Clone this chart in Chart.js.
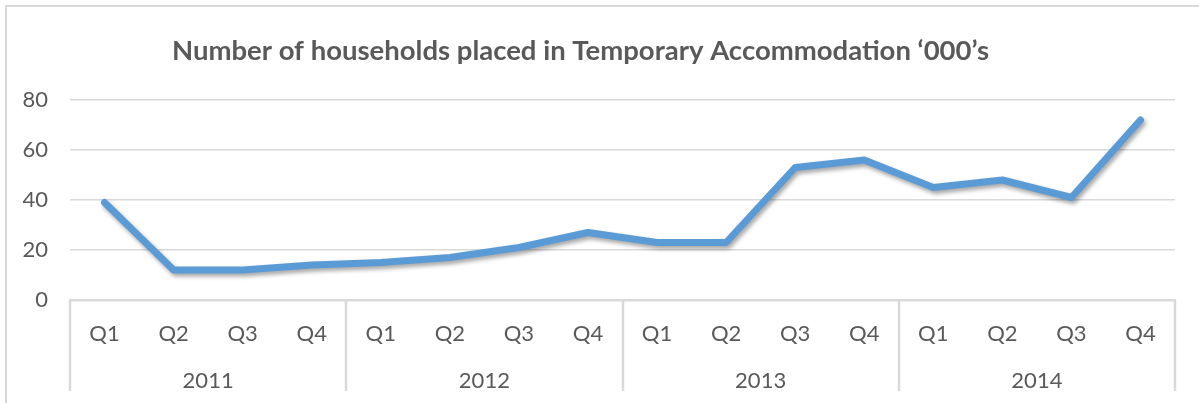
<!DOCTYPE html>
<html>
<head>
<meta charset="utf-8">
<script src="https://cdn.jsdelivr.net/npm/chart.js@4"></script>
<style>
  html, body { margin: 0; padding: 0; background: #ffffff; overflow: hidden; width: 1199px; height: 403px; }
  #frame { position: absolute; left: 5px; top: 5px; width: 1300px; height: 500px; border: 2px solid #d9d9d9; box-sizing: border-box; }
  #c { position: absolute; left: 0; top: 0; }
</style>
</head>
<body>
<div id="frame"></div>
<canvas id="c" width="1199" height="403"></canvas>
<script>
const titleText = "Number of households placed in Temporary Accommodation \u2018000\u2019s";
const quarters = ["Q1","Q2","Q3","Q4","Q1","Q2","Q3","Q4","Q1","Q2","Q3","Q4","Q1","Q2","Q3","Q4"];
const years = ["2011","2012","2013","2014"];
const households = [39, 12, 12, 14, 15, 17, 21, 27, 23, 23, 53, 56, 45, 48, 41, 72];
const yTicks = [0, 20, 40, 60, 80];

const textColor = "#595959";
const gridColor = "#d9d9d9";
const lineColor = "#5b9bd5";

const shadowPlugin = {
  id: "lineShadow",
  beforeDatasetDraw(chart) {
    const ctx = chart.ctx;
    ctx.save();
    ctx.shadowColor = "rgba(0,0,0,0.35)";
    ctx.shadowBlur = 4;
    ctx.shadowOffsetX = 2;
    ctx.shadowOffsetY = 3;
  },
  afterDatasetDraw(chart) {
    chart.ctx.restore();
  }
};

const groupSeparators = {
  id: "groupSeparators",
  afterDraw(chart) {
    const x = chart.scales.x;
    const x2 = chart.scales.x2;
    const ctx = chart.ctx;
    const step = x.getPixelForValue(1) - x.getPixelForValue(0);
    ctx.save();
    ctx.strokeStyle = gridColor;
    ctx.lineWidth = 2.5;
    for (let i = 0; i <= years.length; i++) {
      const px = Math.round(x.getPixelForValue(i * 4) - step / 2);
      ctx.beginPath();
      ctx.moveTo(px, x.top);
      ctx.lineTo(px, x2.bottom - 3);
      ctx.stroke();
    }
    ctx.restore();
  }
};

new Chart(document.getElementById("c"), {
  type: "line",
  data: {
    labels: quarters,
    datasets: [{
      data: households,
      borderColor: lineColor,
      backgroundColor: lineColor,
      borderWidth: 7,
      borderCapStyle: "round",
      borderJoinStyle: "round",
      pointRadius: 0,
      tension: 0,
      fill: false
    }]
  },
  options: {
    responsive: false,
    animation: false,
    events: [],
    layout: { padding: { left: -14, right: 24, top: 0, bottom: 9 } },
    plugins: {
      legend: { display: false },
      tooltip: { enabled: false },
      title: {
        display: true,
        text: titleText,
        color: textColor,
        font: { family: "Lato", size: 27.5, weight: "bold" },
        padding: { top: 35, bottom: 32 }
      }
    },
    scales: {
      x: {
        type: "category",
        offset: true,
        grid: { display: false },
        border: { display: true, color: gridColor, width: 2.5 },
        afterFit(scale) { scale.height = 48; },
        ticks: { color: textColor, font: { family: "Lato", size: 22 }, padding: 13, maxRotation: 0, autoSkip: false }
      },
      x2: {
        type: "category",
        position: "bottom",
        labels: years,
        offset: true,
        grid: { display: false },
        border: { display: false },
        afterFit(scale) { scale.height = 46; },
        ticks: { color: textColor, font: { family: "Lato", size: 22 }, padding: 12, maxRotation: 0, autoSkip: false }
      },
      y: {
        min: 0,
        max: 80,
        afterBuildTicks(scale) { scale.ticks = yTicks.map(v => ({ value: v })); },
        afterFit(scale) { scale.width = 84; },
        grid: {
          color: gridColor,
          lineWidth: 1.5,
          drawTicks: false
        },
        border: { display: false },
        ticks: { color: textColor, font: { family: "Lato", size: 22 }, padding: 22 }
      }
    }
  },
  plugins: [shadowPlugin, groupSeparators]
});
</script>
</body>
</html>
